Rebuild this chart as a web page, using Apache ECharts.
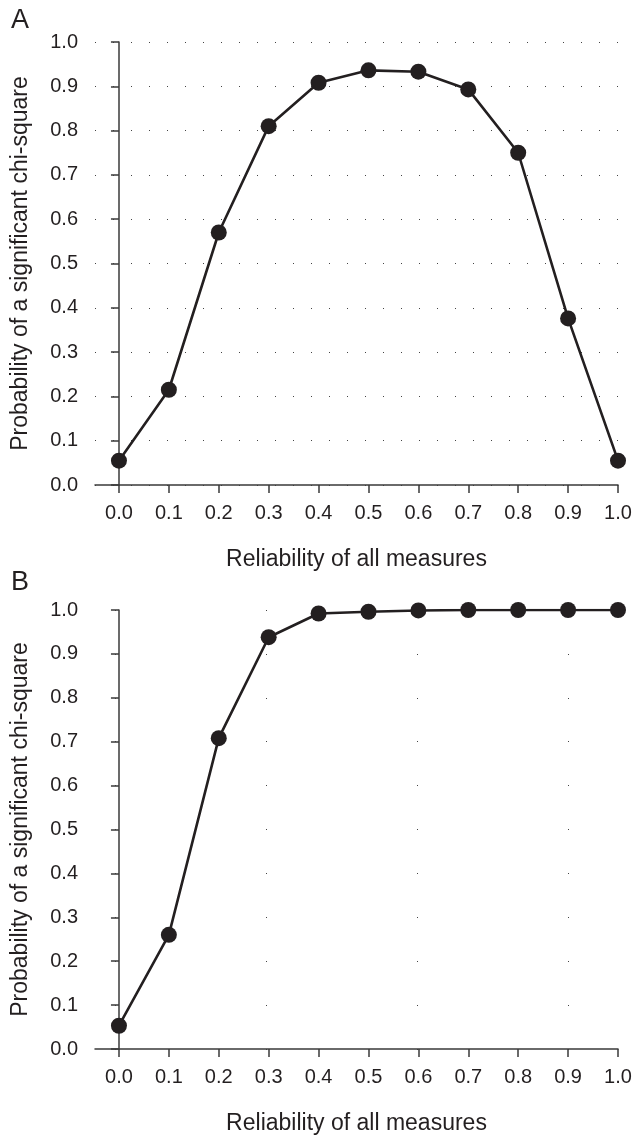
<!DOCTYPE html>
<html style="height: 100%">
<head>
    <meta charset="UTF-8">
    <script src="https://cdn.jsdelivr.net/npm/echarts@6/dist/echarts.min.js"></script>
    <style type="text/css">
        html, body { margin: 0; padding: 0; background: #ffffff; }
    </style>
</head>
<body>
    <div id="paint" style="width: 633px; height: 1135px;"></div>
<script>
    // 数据
    var reliability = [0.0, 0.1, 0.2, 0.3, 0.4, 0.5, 0.6, 0.7, 0.8, 0.9, 1.0];
    var probA = [0.055, 0.215, 0.57, 0.81, 0.908, 0.936, 0.933, 0.893, 0.75, 0.376, 0.055];
    var probB = [0.053, 0.26, 0.708, 0.938, 0.992, 0.996, 0.999, 1.0, 1.0, 1.0, 1.0];
    var xTicks = [0, 0.1, 0.2, 0.3, 0.4, 0.5, 0.6, 0.7, 0.8, 0.9, 1.0];

    var ink = '#231f20';
    var font = 'Liberation Sans, Arial, sans-serif';

    function pairs(ys) {
        return reliability.map(function (x, i) { return [x, ys[i]]; });
    }

    function xAxisFor(idx) {
        return {
            gridIndex: idx,
            type: 'value',
            min: -0.048,
            max: 1.0,
            name: 'Reliability of all measures',
            nameLocation: 'middle',
            nameGap: 63,
            nameMoveOverlap: false,
            nameTextStyle: {fontSize: 23, color: ink, fontFamily: font},
            axisLine: {show: true, lineStyle: {color: '#3a3a3a', width: 1.5}},
            axisTick: {show: true, length: 8, customValues: xTicks, lineStyle: {color: '#3a3a3a', width: 1.5}},
            axisLabel: {
                customValues: xTicks, margin: 18, fontSize: 20, color: ink, fontFamily: font,
                formatter: function (v) { return v.toFixed(1); }
            },
            splitLine: {show: false}
        };
    }

    function yAxisFor(idx) {
        return {
            gridIndex: idx,
            type: 'value',
            min: 0,
            max: 1,
            interval: 0.1,
            name: 'Probability of a significant chi-square',
            nameLocation: 'middle',
            nameGap: 63,
            nameMoveOverlap: false,
            nameTextStyle: {fontSize: 23, color: ink, fontFamily: font},
            axisLine: {show: true, lineStyle: {color: '#3a3a3a', width: 1.5}},
            axisTick: {show: true, length: 8, inside: false, lineStyle: {color: '#3a3a3a', width: 1.5}},
            axisLabel: {
                margin: 17, fontSize: 20, color: ink, fontFamily: font,
                formatter: function (v) { return v.toFixed(1); }
            },
            // 网格线：A 为稀疏点线，B 更稀疏
            splitLine: {
                show: true,
                lineStyle: {color: '#444', width: 1, type: idx === 0 ? [1, 17] : [1, 150], dashOffset: idx === 0 ? 0 : -20}
            }
        };
    }

    function lineSeries(idx, ys) {
        return {
            type: 'line',
            xAxisIndex: idx,
            yAxisIndex: idx,
            data: pairs(ys),
            symbol: 'circle',
            symbolSize: 16,
            lineStyle: {color: ink, width: 2.6},
            itemStyle: {color: ink},
            z: 3
        };
    }

    var chart = echarts.init(document.getElementById('paint'), null, {renderer: 'canvas'});
    chart.setOption({
        backgroundColor: '#ffffff',
        animation: false,
        title: [
            {text: 'A', left: 6, top: 2, textStyle: {fontSize: 27, fontWeight: 'normal', color: ink, fontFamily: font}},
            {text: 'B', left: 6, top: 564, textStyle: {fontSize: 27, fontWeight: 'normal', color: ink, fontFamily: font}}
        ],
        grid: [
            {left: 95, top: 42, width: 523, height: 443, outerBoundsMode: 'none', containLabel: false},
            {left: 95, top: 610, width: 523, height: 439, outerBoundsMode: 'none', containLabel: false}
        ],
        xAxis: [xAxisFor(0), xAxisFor(1)],
        yAxis: [yAxisFor(0), yAxisFor(1)],
        series: [lineSeries(0, probA), lineSeries(1, probB)]
    });
</script>
</body>
</html>
